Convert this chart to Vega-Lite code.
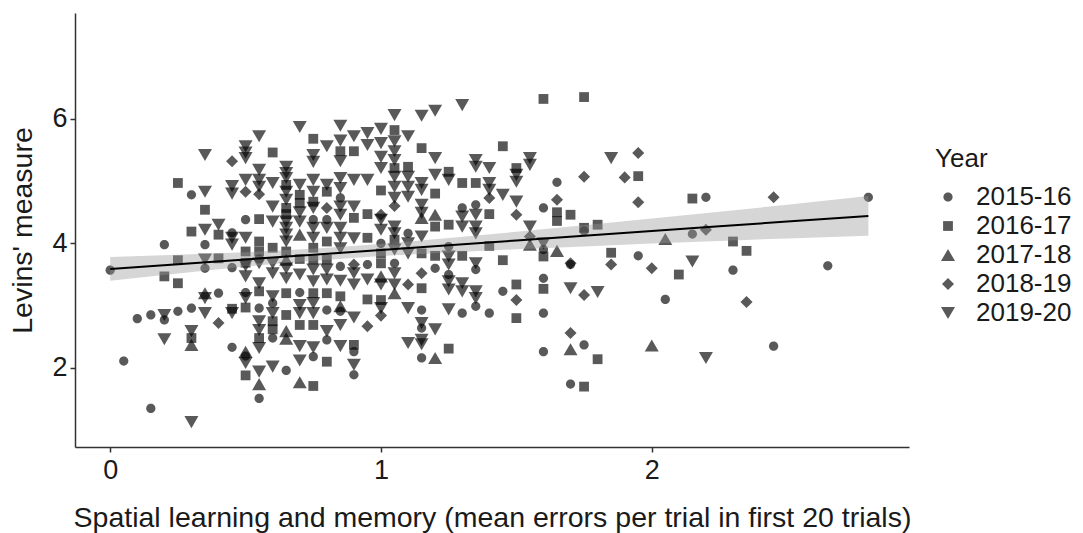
{
  "$schema": "https://vega.github.io/schema/vega-lite/v6.json",
  "width": 834,
  "height": 434,
  "autosize": {"type": "none"},
  "padding": {"left": 75, "top": 13, "right": 174, "bottom": 86},
  "background": "white",
  "config": {
    "view": {"stroke": null},
    "font": "Liberation Sans",
    "axis": {
      "grid": false,
      "domainColor": "#333333",
      "domainWidth": 1.5,
      "tickColor": "#333333",
      "tickWidth": 1.5,
      "tickSize": 5,
      "labelFont": "Liberation Sans",
      "labelFontSize": 27,
      "labelColor": "#1a1a1a",
      "labelFlush": false,
      "labelOverlap": false,
      "titleFont": "Liberation Sans",
      "titleFontSize": 28.5,
      "titleFontWeight": "normal",
      "titleColor": "#1a1a1a"
    },
    "axisX": {"labelPadding": 5, "titleX": 417, "titleY": 79, "titleBaseline": "alphabetic", "titleAlign": "center"},
    "axisY": {"labelPadding": 3, "titleX": -44, "titleY": 217, "titleBaseline": "alphabetic", "titleAlign": "center"}
  },
  "datasets": {
    "animals": [
      {"errors":0.0,"levins":3.57,"Year":"2015-16"},
      {"errors":0.05,"levins":2.11,"Year":"2015-16"},
      {"errors":0.1,"levins":2.79,"Year":"2015-16"},
      {"errors":0.15,"levins":2.85,"Year":"2015-16"},
      {"errors":0.15,"levins":1.35,"Year":"2015-16"},
      {"errors":0.2,"levins":3.98,"Year":"2015-16"},
      {"errors":0.2,"levins":3.47,"Year":"2016-17"},
      {"errors":0.2,"levins":2.85,"Year":"2019-20"},
      {"errors":0.2,"levins":2.77,"Year":"2015-16"},
      {"errors":0.2,"levins":2.46,"Year":"2019-20"},
      {"errors":0.25,"levins":4.97,"Year":"2016-17"},
      {"errors":0.25,"levins":3.73,"Year":"2016-17"},
      {"errors":0.25,"levins":3.36,"Year":"2016-17"},
      {"errors":0.25,"levins":2.91,"Year":"2015-16"},
      {"errors":0.3,"levins":4.78,"Year":"2015-16"},
      {"errors":0.3,"levins":4.19,"Year":"2016-17"},
      {"errors":0.3,"levins":2.96,"Year":"2015-16"},
      {"errors":0.3,"levins":2.59,"Year":"2019-20"},
      {"errors":0.3,"levins":2.48,"Year":"2016-17"},
      {"errors":0.3,"levins":2.37,"Year":"2017-18"},
      {"errors":0.3,"levins":1.13,"Year":"2019-20"},
      {"errors":0.35,"levins":5.42,"Year":"2019-20"},
      {"errors":0.35,"levins":4.83,"Year":"2019-20"},
      {"errors":0.35,"levins":4.54,"Year":"2016-17"},
      {"errors":0.35,"levins":4.22,"Year":"2019-20"},
      {"errors":0.35,"levins":3.98,"Year":"2015-16"},
      {"errors":0.35,"levins":3.74,"Year":"2019-20"},
      {"errors":0.35,"levins":3.6,"Year":"2015-16"},
      {"errors":0.35,"levins":3.2,"Year":"2017-18"},
      {"errors":0.35,"levins":3.12,"Year":"2019-20"},
      {"errors":0.35,"levins":2.88,"Year":"2019-20"},
      {"errors":0.4,"levins":4.3,"Year":"2019-20"},
      {"errors":0.4,"levins":4.14,"Year":"2016-17"},
      {"errors":0.4,"levins":3.76,"Year":"2016-17"},
      {"errors":0.4,"levins":3.2,"Year":"2015-16"},
      {"errors":0.4,"levins":2.72,"Year":"2018-19"},
      {"errors":0.45,"levins":5.32,"Year":"2018-19"},
      {"errors":0.45,"levins":4.92,"Year":"2019-20"},
      {"errors":0.45,"levins":4.8,"Year":"2019-20"},
      {"errors":0.45,"levins":4.17,"Year":"2015-16"},
      {"errors":0.45,"levins":4.09,"Year":"2019-20"},
      {"errors":0.45,"levins":3.98,"Year":"2019-20"},
      {"errors":0.45,"levins":3.61,"Year":"2015-16"},
      {"errors":0.45,"levins":2.95,"Year":"2016-17"},
      {"errors":0.45,"levins":2.88,"Year":"2019-20"},
      {"errors":0.45,"levins":2.33,"Year":"2015-16"},
      {"errors":0.5,"levins":5.56,"Year":"2019-20"},
      {"errors":0.5,"levins":5.46,"Year":"2019-20"},
      {"errors":0.5,"levins":5.37,"Year":"2019-20"},
      {"errors":0.5,"levins":5.02,"Year":"2019-20"},
      {"errors":0.5,"levins":4.83,"Year":"2018-19"},
      {"errors":0.5,"levins":4.38,"Year":"2015-16"},
      {"errors":0.5,"levins":4.09,"Year":"2019-20"},
      {"errors":0.5,"levins":3.87,"Year":"2016-17"},
      {"errors":0.5,"levins":3.69,"Year":"2016-17"},
      {"errors":0.5,"levins":3.64,"Year":"2019-20"},
      {"errors":0.5,"levins":3.47,"Year":"2019-20"},
      {"errors":0.5,"levins":3.21,"Year":"2015-16"},
      {"errors":0.5,"levins":3.12,"Year":"2019-20"},
      {"errors":0.5,"levins":2.97,"Year":"2016-17"},
      {"errors":0.5,"levins":2.26,"Year":"2017-18"},
      {"errors":0.5,"levins":2.19,"Year":"2015-16"},
      {"errors":0.5,"levins":2.08,"Year":"2019-20"},
      {"errors":0.5,"levins":1.88,"Year":"2016-17"},
      {"errors":0.55,"levins":5.72,"Year":"2019-20"},
      {"errors":0.55,"levins":5.18,"Year":"2019-20"},
      {"errors":0.55,"levins":5.02,"Year":"2019-20"},
      {"errors":0.55,"levins":4.91,"Year":"2019-20"},
      {"errors":0.55,"levins":4.79,"Year":"2018-19"},
      {"errors":0.55,"levins":4.39,"Year":"2016-17"},
      {"errors":0.55,"levins":4.03,"Year":"2016-17"},
      {"errors":0.55,"levins":3.87,"Year":"2016-17"},
      {"errors":0.55,"levins":3.75,"Year":"2015-16"},
      {"errors":0.55,"levins":3.68,"Year":"2019-20"},
      {"errors":0.55,"levins":3.36,"Year":"2019-20"},
      {"errors":0.55,"levins":3.23,"Year":"2016-17"},
      {"errors":0.55,"levins":2.96,"Year":"2015-16"},
      {"errors":0.55,"levins":2.75,"Year":"2019-20"},
      {"errors":0.55,"levins":2.61,"Year":"2019-20"},
      {"errors":0.55,"levins":2.48,"Year":"2016-17"},
      {"errors":0.55,"levins":2.32,"Year":"2019-20"},
      {"errors":0.55,"levins":1.94,"Year":"2019-20"},
      {"errors":0.55,"levins":1.74,"Year":"2017-18"},
      {"errors":0.55,"levins":1.51,"Year":"2015-16"},
      {"errors":0.6,"levins":5.46,"Year":"2016-17"},
      {"errors":0.6,"levins":4.97,"Year":"2019-20"},
      {"errors":0.6,"levins":4.59,"Year":"2019-20"},
      {"errors":0.6,"levins":4.35,"Year":"2019-20"},
      {"errors":0.6,"levins":3.93,"Year":"2016-17"},
      {"errors":0.6,"levins":3.68,"Year":"2019-20"},
      {"errors":0.6,"levins":3.52,"Year":"2019-20"},
      {"errors":0.6,"levins":3.15,"Year":"2019-20"},
      {"errors":0.6,"levins":3.04,"Year":"2015-16"},
      {"errors":0.6,"levins":2.88,"Year":"2019-20"},
      {"errors":0.6,"levins":2.75,"Year":"2016-17"},
      {"errors":0.6,"levins":2.62,"Year":"2016-17"},
      {"errors":0.6,"levins":2.48,"Year":"2015-16"},
      {"errors":0.6,"levins":2.02,"Year":"2019-20"},
      {"errors":0.65,"levins":5.23,"Year":"2019-20"},
      {"errors":0.65,"levins":5.13,"Year":"2019-20"},
      {"errors":0.65,"levins":5.05,"Year":"2019-20"},
      {"errors":0.65,"levins":4.94,"Year":"2016-17"},
      {"errors":0.65,"levins":4.83,"Year":"2019-20"},
      {"errors":0.65,"levins":4.7,"Year":"2019-20"},
      {"errors":0.65,"levins":4.57,"Year":"2016-17"},
      {"errors":0.65,"levins":4.47,"Year":"2016-17"},
      {"errors":0.65,"levins":4.35,"Year":"2019-20"},
      {"errors":0.65,"levins":4.25,"Year":"2019-20"},
      {"errors":0.65,"levins":4.14,"Year":"2019-20"},
      {"errors":0.65,"levins":4.03,"Year":"2019-20"},
      {"errors":0.65,"levins":3.87,"Year":"2016-17"},
      {"errors":0.65,"levins":3.74,"Year":"2017-18"},
      {"errors":0.65,"levins":3.6,"Year":"2019-20"},
      {"errors":0.65,"levins":3.44,"Year":"2019-20"},
      {"errors":0.65,"levins":3.2,"Year":"2016-17"},
      {"errors":0.65,"levins":2.85,"Year":"2016-17"},
      {"errors":0.65,"levins":2.59,"Year":"2017-18"},
      {"errors":0.65,"levins":2.47,"Year":"2017-18"},
      {"errors":0.65,"levins":1.96,"Year":"2015-16"},
      {"errors":0.7,"levins":5.87,"Year":"2019-20"},
      {"errors":0.7,"levins":4.94,"Year":"2019-20"},
      {"errors":0.7,"levins":4.78,"Year":"2016-17"},
      {"errors":0.7,"levins":4.65,"Year":"2016-17"},
      {"errors":0.7,"levins":4.5,"Year":"2019-20"},
      {"errors":0.7,"levins":4.35,"Year":"2019-20"},
      {"errors":0.7,"levins":4.14,"Year":"2017-18"},
      {"errors":0.7,"levins":3.75,"Year":"2016-17"},
      {"errors":0.7,"levins":3.5,"Year":"2019-20"},
      {"errors":0.7,"levins":3.21,"Year":"2015-16"},
      {"errors":0.7,"levins":3.01,"Year":"2019-20"},
      {"errors":0.7,"levins":2.88,"Year":"2019-20"},
      {"errors":0.7,"levins":2.69,"Year":"2016-17"},
      {"errors":0.7,"levins":2.35,"Year":"2019-20"},
      {"errors":0.7,"levins":2.12,"Year":"2019-20"},
      {"errors":0.7,"levins":1.77,"Year":"2017-18"},
      {"errors":0.75,"levins":5.68,"Year":"2016-17"},
      {"errors":0.75,"levins":5.42,"Year":"2019-20"},
      {"errors":0.75,"levins":5.31,"Year":"2019-20"},
      {"errors":0.75,"levins":5.02,"Year":"2019-20"},
      {"errors":0.75,"levins":4.83,"Year":"2019-20"},
      {"errors":0.75,"levins":4.67,"Year":"2016-17"},
      {"errors":0.75,"levins":4.57,"Year":"2019-20"},
      {"errors":0.75,"levins":4.38,"Year":"2015-16"},
      {"errors":0.75,"levins":4.25,"Year":"2019-20"},
      {"errors":0.75,"levins":4.09,"Year":"2019-20"},
      {"errors":0.75,"levins":3.93,"Year":"2016-17"},
      {"errors":0.75,"levins":3.74,"Year":"2016-17"},
      {"errors":0.75,"levins":3.58,"Year":"2019-20"},
      {"errors":0.75,"levins":3.39,"Year":"2019-20"},
      {"errors":0.75,"levins":3.2,"Year":"2016-17"},
      {"errors":0.75,"levins":3.04,"Year":"2019-20"},
      {"errors":0.75,"levins":2.88,"Year":"2019-20"},
      {"errors":0.75,"levins":2.69,"Year":"2016-17"},
      {"errors":0.75,"levins":2.33,"Year":"2019-20"},
      {"errors":0.75,"levins":2.18,"Year":"2015-16"},
      {"errors":0.75,"levins":1.71,"Year":"2016-17"},
      {"errors":0.8,"levins":5.56,"Year":"2019-20"},
      {"errors":0.8,"levins":4.94,"Year":"2019-20"},
      {"errors":0.8,"levins":4.83,"Year":"2016-17"},
      {"errors":0.8,"levins":4.57,"Year":"2018-19"},
      {"errors":0.8,"levins":4.38,"Year":"2015-16"},
      {"errors":0.8,"levins":4.25,"Year":"2019-20"},
      {"errors":0.8,"levins":4.03,"Year":"2016-17"},
      {"errors":0.8,"levins":3.74,"Year":"2016-17"},
      {"errors":0.8,"levins":3.58,"Year":"2019-20"},
      {"errors":0.8,"levins":3.42,"Year":"2019-20"},
      {"errors":0.8,"levins":3.2,"Year":"2016-17"},
      {"errors":0.8,"levins":2.93,"Year":"2015-16"},
      {"errors":0.8,"levins":2.59,"Year":"2019-20"},
      {"errors":0.8,"levins":2.45,"Year":"2015-16"},
      {"errors":0.8,"levins":2.1,"Year":"2016-17"},
      {"errors":0.85,"levins":5.89,"Year":"2019-20"},
      {"errors":0.85,"levins":5.65,"Year":"2019-20"},
      {"errors":0.85,"levins":5.48,"Year":"2016-17"},
      {"errors":0.85,"levins":5.32,"Year":"2019-20"},
      {"errors":0.85,"levins":5.05,"Year":"2019-20"},
      {"errors":0.85,"levins":4.89,"Year":"2019-20"},
      {"errors":0.85,"levins":4.73,"Year":"2015-16"},
      {"errors":0.85,"levins":4.59,"Year":"2019-20"},
      {"errors":0.85,"levins":4.46,"Year":"2019-20"},
      {"errors":0.85,"levins":4.25,"Year":"2019-20"},
      {"errors":0.85,"levins":4.09,"Year":"2019-20"},
      {"errors":0.85,"levins":3.92,"Year":"2019-20"},
      {"errors":0.85,"levins":3.63,"Year":"2015-16"},
      {"errors":0.85,"levins":3.4,"Year":"2019-20"},
      {"errors":0.85,"levins":3.15,"Year":"2016-17"},
      {"errors":0.85,"levins":2.99,"Year":"2017-18"},
      {"errors":0.85,"levins":2.91,"Year":"2015-16"},
      {"errors":0.85,"levins":2.69,"Year":"2019-20"},
      {"errors":0.85,"levins":2.35,"Year":"2019-20"},
      {"errors":0.9,"levins":5.72,"Year":"2019-20"},
      {"errors":0.9,"levins":5.48,"Year":"2016-17"},
      {"errors":0.9,"levins":5.02,"Year":"2019-20"},
      {"errors":0.9,"levins":4.59,"Year":"2019-20"},
      {"errors":0.9,"levins":4.41,"Year":"2016-17"},
      {"errors":0.9,"levins":4.08,"Year":"2019-20"},
      {"errors":0.9,"levins":3.66,"Year":"2018-19"},
      {"errors":0.9,"levins":3.52,"Year":"2019-20"},
      {"errors":0.9,"levins":3.34,"Year":"2019-20"},
      {"errors":0.9,"levins":2.81,"Year":"2019-20"},
      {"errors":0.9,"levins":2.37,"Year":"2016-17"},
      {"errors":0.9,"levins":2.26,"Year":"2015-16"},
      {"errors":0.9,"levins":2.05,"Year":"2019-20"},
      {"errors":0.9,"levins":1.89,"Year":"2015-16"},
      {"errors":0.95,"levins":5.77,"Year":"2019-20"},
      {"errors":0.95,"levins":5.58,"Year":"2019-20"},
      {"errors":0.95,"levins":5.02,"Year":"2019-20"},
      {"errors":0.95,"levins":4.47,"Year":"2016-17"},
      {"errors":0.95,"levins":4.09,"Year":"2016-17"},
      {"errors":0.95,"levins":3.66,"Year":"2015-16"},
      {"errors":0.95,"levins":3.42,"Year":"2019-20"},
      {"errors":0.95,"levins":3.1,"Year":"2016-17"},
      {"errors":0.95,"levins":2.67,"Year":"2018-19"},
      {"errors":1.0,"levins":5.84,"Year":"2019-20"},
      {"errors":1.0,"levins":5.61,"Year":"2019-20"},
      {"errors":1.0,"levins":5.39,"Year":"2019-20"},
      {"errors":1.0,"levins":5.21,"Year":"2019-20"},
      {"errors":1.0,"levins":4.85,"Year":"2016-17"},
      {"errors":1.0,"levins":4.46,"Year":"2018-19"},
      {"errors":1.0,"levins":4.38,"Year":"2019-20"},
      {"errors":1.0,"levins":4.22,"Year":"2019-20"},
      {"errors":1.0,"levins":4.0,"Year":"2015-16"},
      {"errors":1.0,"levins":3.84,"Year":"2016-17"},
      {"errors":1.0,"levins":3.68,"Year":"2016-17"},
      {"errors":1.0,"levins":3.47,"Year":"2017-18"},
      {"errors":1.0,"levins":3.34,"Year":"2019-20"},
      {"errors":1.0,"levins":3.09,"Year":"2016-17"},
      {"errors":1.0,"levins":2.96,"Year":"2019-20"},
      {"errors":1.0,"levins":2.84,"Year":"2018-19"},
      {"errors":1.05,"levins":6.06,"Year":"2019-20"},
      {"errors":1.05,"levins":5.82,"Year":"2016-17"},
      {"errors":1.05,"levins":5.64,"Year":"2019-20"},
      {"errors":1.05,"levins":5.48,"Year":"2019-20"},
      {"errors":1.05,"levins":5.34,"Year":"2019-20"},
      {"errors":1.05,"levins":5.21,"Year":"2016-17"},
      {"errors":1.05,"levins":5.07,"Year":"2019-20"},
      {"errors":1.05,"levins":4.91,"Year":"2019-20"},
      {"errors":1.05,"levins":4.73,"Year":"2019-20"},
      {"errors":1.05,"levins":4.6,"Year":"2018-19"},
      {"errors":1.05,"levins":4.27,"Year":"2019-20"},
      {"errors":1.05,"levins":4.16,"Year":"2019-20"},
      {"errors":1.05,"levins":4.06,"Year":"2016-17"},
      {"errors":1.05,"levins":3.9,"Year":"2019-20"},
      {"errors":1.05,"levins":3.68,"Year":"2015-16"},
      {"errors":1.05,"levins":3.52,"Year":"2019-20"},
      {"errors":1.05,"levins":3.34,"Year":"2019-20"},
      {"errors":1.05,"levins":3.2,"Year":"2017-18"},
      {"errors":1.1,"levins":5.72,"Year":"2019-20"},
      {"errors":1.1,"levins":5.23,"Year":"2016-17"},
      {"errors":1.1,"levins":5.07,"Year":"2019-20"},
      {"errors":1.1,"levins":4.91,"Year":"2019-20"},
      {"errors":1.1,"levins":4.75,"Year":"2019-20"},
      {"errors":1.1,"levins":4.16,"Year":"2015-16"},
      {"errors":1.1,"levins":4.0,"Year":"2019-20"},
      {"errors":1.1,"levins":3.84,"Year":"2019-20"},
      {"errors":1.1,"levins":3.34,"Year":"2018-19"},
      {"errors":1.1,"levins":2.96,"Year":"2019-20"},
      {"errors":1.1,"levins":2.4,"Year":"2019-20"},
      {"errors":1.15,"levins":6.05,"Year":"2019-20"},
      {"errors":1.15,"levins":5.53,"Year":"2016-17"},
      {"errors":1.15,"levins":4.97,"Year":"2019-20"},
      {"errors":1.15,"levins":4.86,"Year":"2019-20"},
      {"errors":1.15,"levins":4.62,"Year":"2019-20"},
      {"errors":1.15,"levins":4.49,"Year":"2019-20"},
      {"errors":1.15,"levins":4.41,"Year":"2017-18"},
      {"errors":1.15,"levins":4.11,"Year":"2019-20"},
      {"errors":1.15,"levins":3.84,"Year":"2016-17"},
      {"errors":1.15,"levins":3.52,"Year":"2018-19"},
      {"errors":1.15,"levins":3.28,"Year":"2016-17"},
      {"errors":1.15,"levins":2.93,"Year":"2015-16"},
      {"errors":1.15,"levins":2.72,"Year":"2019-20"},
      {"errors":1.15,"levins":2.64,"Year":"2015-16"},
      {"errors":1.15,"levins":2.45,"Year":"2019-20"},
      {"errors":1.15,"levins":2.38,"Year":"2019-20"},
      {"errors":1.15,"levins":2.16,"Year":"2015-16"},
      {"errors":1.2,"levins":6.13,"Year":"2019-20"},
      {"errors":1.2,"levins":5.37,"Year":"2019-20"},
      {"errors":1.2,"levins":5.1,"Year":"2019-20"},
      {"errors":1.2,"levins":4.8,"Year":"2016-17"},
      {"errors":1.2,"levins":4.46,"Year":"2017-18"},
      {"errors":1.2,"levins":4.27,"Year":"2016-17"},
      {"errors":1.2,"levins":3.8,"Year":"2016-17"},
      {"errors":1.2,"levins":3.6,"Year":"2015-16"},
      {"errors":1.2,"levins":2.62,"Year":"2019-20"},
      {"errors":1.2,"levins":2.16,"Year":"2017-18"},
      {"errors":1.25,"levins":5.15,"Year":"2016-17"},
      {"errors":1.25,"levins":5.02,"Year":"2019-20"},
      {"errors":1.25,"levins":4.3,"Year":"2016-17"},
      {"errors":1.25,"levins":3.95,"Year":"2015-16"},
      {"errors":1.25,"levins":3.79,"Year":"2019-20"},
      {"errors":1.25,"levins":3.66,"Year":"2019-20"},
      {"errors":1.25,"levins":3.5,"Year":"2015-16"},
      {"errors":1.25,"levins":3.39,"Year":"2019-20"},
      {"errors":1.25,"levins":3.26,"Year":"2019-20"},
      {"errors":1.25,"levins":2.94,"Year":"2019-20"},
      {"errors":1.25,"levins":2.31,"Year":"2016-17"},
      {"errors":1.3,"levins":6.22,"Year":"2019-20"},
      {"errors":1.3,"levins":4.97,"Year":"2016-17"},
      {"errors":1.3,"levins":4.57,"Year":"2015-16"},
      {"errors":1.3,"levins":4.43,"Year":"2019-20"},
      {"errors":1.3,"levins":4.27,"Year":"2019-20"},
      {"errors":1.3,"levins":3.8,"Year":"2016-17"},
      {"errors":1.3,"levins":3.36,"Year":"2019-20"},
      {"errors":1.3,"levins":3.23,"Year":"2019-20"},
      {"errors":1.3,"levins":2.88,"Year":"2015-16"},
      {"errors":1.35,"levins":5.34,"Year":"2019-20"},
      {"errors":1.35,"levins":5.23,"Year":"2019-20"},
      {"errors":1.35,"levins":4.97,"Year":"2016-17"},
      {"errors":1.35,"levins":4.62,"Year":"2015-16"},
      {"errors":1.35,"levins":4.46,"Year":"2019-20"},
      {"errors":1.35,"levins":4.27,"Year":"2019-20"},
      {"errors":1.35,"levins":4.16,"Year":"2019-20"},
      {"errors":1.35,"levins":3.68,"Year":"2019-20"},
      {"errors":1.35,"levins":3.58,"Year":"2015-16"},
      {"errors":1.35,"levins":3.23,"Year":"2019-20"},
      {"errors":1.35,"levins":3.12,"Year":"2019-20"},
      {"errors":1.35,"levins":2.99,"Year":"2015-16"},
      {"errors":1.4,"levins":5.21,"Year":"2019-20"},
      {"errors":1.4,"levins":4.97,"Year":"2019-20"},
      {"errors":1.4,"levins":4.86,"Year":"2019-20"},
      {"errors":1.4,"levins":4.73,"Year":"2018-19"},
      {"errors":1.4,"levins":4.47,"Year":"2016-17"},
      {"errors":1.4,"levins":3.96,"Year":"2016-17"},
      {"errors":1.4,"levins":2.88,"Year":"2015-16"},
      {"errors":1.45,"levins":5.56,"Year":"2016-17"},
      {"errors":1.45,"levins":4.78,"Year":"2019-20"},
      {"errors":1.45,"levins":3.73,"Year":"2016-17"},
      {"errors":1.45,"levins":3.23,"Year":"2015-16"},
      {"errors":1.5,"levins":5.21,"Year":"2016-17"},
      {"errors":1.5,"levins":5.1,"Year":"2019-20"},
      {"errors":1.5,"levins":4.99,"Year":"2019-20"},
      {"errors":1.5,"levins":4.67,"Year":"2019-20"},
      {"errors":1.5,"levins":4.46,"Year":"2018-19"},
      {"errors":1.5,"levins":3.34,"Year":"2016-17"},
      {"errors":1.5,"levins":3.09,"Year":"2018-19"},
      {"errors":1.5,"levins":2.8,"Year":"2016-17"},
      {"errors":1.55,"levins":5.37,"Year":"2019-20"},
      {"errors":1.55,"levins":5.26,"Year":"2019-20"},
      {"errors":1.55,"levins":4.27,"Year":"2019-20"},
      {"errors":1.55,"levins":4.11,"Year":"2018-19"},
      {"errors":1.55,"levins":3.98,"Year":"2017-18"},
      {"errors":1.6,"levins":6.32,"Year":"2016-17"},
      {"errors":1.6,"levins":4.57,"Year":"2015-16"},
      {"errors":1.6,"levins":4.0,"Year":"2019-20"},
      {"errors":1.6,"levins":3.9,"Year":"2015-16"},
      {"errors":1.6,"levins":3.79,"Year":"2016-17"},
      {"errors":1.6,"levins":3.44,"Year":"2015-16"},
      {"errors":1.6,"levins":3.27,"Year":"2016-17"},
      {"errors":1.6,"levins":2.88,"Year":"2015-16"},
      {"errors":1.6,"levins":2.26,"Year":"2015-16"},
      {"errors":1.65,"levins":4.98,"Year":"2015-16"},
      {"errors":1.65,"levins":4.7,"Year":"2018-19"},
      {"errors":1.65,"levins":4.5,"Year":"2016-17"},
      {"errors":1.65,"levins":4.36,"Year":"2016-17"},
      {"errors":1.65,"levins":3.88,"Year":"2017-18"},
      {"errors":1.7,"levins":4.46,"Year":"2016-17"},
      {"errors":1.7,"levins":3.68,"Year":"2018-19"},
      {"errors":1.7,"levins":3.66,"Year":"2015-16"},
      {"errors":1.7,"levins":3.28,"Year":"2019-20"},
      {"errors":1.7,"levins":2.56,"Year":"2018-19"},
      {"errors":1.7,"levins":2.3,"Year":"2017-18"},
      {"errors":1.7,"levins":1.74,"Year":"2015-16"},
      {"errors":1.75,"levins":6.35,"Year":"2016-17"},
      {"errors":1.75,"levins":5.07,"Year":"2018-19"},
      {"errors":1.75,"levins":4.25,"Year":"2016-17"},
      {"errors":1.75,"levins":4.2,"Year":"2015-16"},
      {"errors":1.75,"levins":3.17,"Year":"2018-19"},
      {"errors":1.75,"levins":2.37,"Year":"2015-16"},
      {"errors":1.75,"levins":1.7,"Year":"2016-17"},
      {"errors":1.8,"levins":4.3,"Year":"2016-17"},
      {"errors":1.8,"levins":3.22,"Year":"2019-20"},
      {"errors":1.8,"levins":2.14,"Year":"2016-17"},
      {"errors":1.85,"levins":5.37,"Year":"2019-20"},
      {"errors":1.85,"levins":3.85,"Year":"2016-17"},
      {"errors":1.85,"levins":3.66,"Year":"2018-19"},
      {"errors":1.9,"levins":5.06,"Year":"2018-19"},
      {"errors":1.95,"levins":5.45,"Year":"2018-19"},
      {"errors":1.95,"levins":5.08,"Year":"2016-17"},
      {"errors":1.95,"levins":4.66,"Year":"2018-19"},
      {"errors":1.95,"levins":3.8,"Year":"2015-16"},
      {"errors":2.0,"levins":3.6,"Year":"2018-19"},
      {"errors":2.0,"levins":2.36,"Year":"2017-18"},
      {"errors":2.05,"levins":4.07,"Year":"2017-18"},
      {"errors":2.05,"levins":3.1,"Year":"2015-16"},
      {"errors":2.1,"levins":3.5,"Year":"2016-17"},
      {"errors":2.15,"levins":4.72,"Year":"2016-17"},
      {"errors":2.15,"levins":4.15,"Year":"2015-16"},
      {"errors":2.15,"levins":3.71,"Year":"2019-20"},
      {"errors":2.2,"levins":4.74,"Year":"2015-16"},
      {"errors":2.2,"levins":4.22,"Year":"2018-19"},
      {"errors":2.2,"levins":2.16,"Year":"2019-20"},
      {"errors":2.3,"levins":4.03,"Year":"2016-17"},
      {"errors":2.3,"levins":3.57,"Year":"2015-16"},
      {"errors":2.35,"levins":3.88,"Year":"2016-17"},
      {"errors":2.35,"levins":3.06,"Year":"2018-19"},
      {"errors":2.45,"levins":4.74,"Year":"2018-19"},
      {"errors":2.45,"levins":2.35,"Year":"2015-16"},
      {"errors":2.65,"levins":3.64,"Year":"2015-16"},
      {"errors":2.8,"levins":4.74,"Year":"2015-16"}
    ],
    "fit": [
      {"errors":0.0,"fit":3.59,"lower":3.4,"upper":3.78},
      {"errors":0.25,"fit":3.666,"lower":3.516,"upper":3.816},
      {"errors":0.5,"fit":3.742,"lower":3.627,"upper":3.857},
      {"errors":0.75,"fit":3.818,"lower":3.723,"upper":3.913},
      {"errors":1.0,"fit":3.894,"lower":3.799,"upper":3.989},
      {"errors":1.25,"fit":3.97,"lower":3.855,"upper":4.085},
      {"errors":1.5,"fit":4.046,"lower":3.906,"upper":4.186},
      {"errors":1.75,"fit":4.122,"lower":3.952,"upper":4.292},
      {"errors":2.0,"fit":4.198,"lower":3.998,"upper":4.398},
      {"errors":2.25,"fit":4.274,"lower":4.039,"upper":4.509},
      {"errors":2.5,"fit":4.35,"lower":4.08,"upper":4.62},
      {"errors":2.8,"fit":4.441,"lower":4.121,"upper":4.761}
    ]
  },
  "layer": [
    {
      "data": {"name": "animals"},
      "mark": {"type": "point", "filled": true, "color": "#000000", "opacity": 0.65, "size": 196, "strokeWidth": 0},
      "encoding": {
        "x": {
          "field": "errors", "type": "quantitative",
          "title": "Spatial learning and memory (mean errors per trial in first 20 trials)",
          "scale": {"domain": [-0.13, 2.95], "nice": false, "zero": false},
          "axis": {"values": [0, 1, 2], "format": "d"}
        },
        "y": {
          "field": "levins", "type": "quantitative",
          "title": "Levins' measure",
          "scale": {"domain": [0.73, 7.7], "nice": false, "zero": false},
          "axis": {"values": [2, 4, 6], "format": "d"}
        },
        "shape": {
          "field": "Year", "type": "nominal",
          "scale": {
            "domain": ["2015-16", "2016-17", "2017-18", "2018-19", "2019-20"],
            "range": [
              "M0.66,0A0.66,0.66,0,1,1,-0.66,0A0.66,0.66,0,1,1,0.66,0Z",
              "M-0.7,-0.7L0.7,-0.7L0.7,0.7L-0.7,0.7Z",
              "M0,-0.866L1,0.866L-1,0.866Z",
              "M0,-0.86L0.86,0L0,0.86L-0.86,0Z",
              "M0,0.866L1,-0.866L-1,-0.866Z"
            ]
          },
          "legend": {
            "orient": "none",
            "legendX": 860,
            "legendY": 133,
            "title": "Year",
            "titleFont": "Liberation Sans",
            "titleFontSize": 26,
            "titleFontWeight": "normal",
            "titleColor": "#1a1a1a",
            "titlePadding": 12,
            "labelFont": "Liberation Sans",
            "labelFontSize": 26,
            "labelColor": "#1a1a1a",
            "labelOffset": 15,
            "symbolOffset": 0,
            "symbolSize": 196,
            "symbolFillColor": "#000000",
            "symbolOpacity": 0.65,
            "symbolStrokeWidth": 0,
            "rowPadding": 3
          }
        }
      }
    },
    {
      "data": {"name": "fit"},
      "mark": {"type": "area", "color": "#999999", "opacity": 0.4},
      "encoding": {
        "x": {"field": "errors", "type": "quantitative", "title": "Spatial learning and memory (mean errors per trial in first 20 trials)"},
        "y": {"field": "lower", "type": "quantitative", "title": "Levins' measure"},
        "y2": {"field": "upper"}
      }
    },
    {
      "data": {"name": "fit"},
      "mark": {"type": "line", "color": "#000000", "strokeWidth": 2},
      "encoding": {
        "x": {"field": "errors", "type": "quantitative", "title": "Spatial learning and memory (mean errors per trial in first 20 trials)"},
        "y": {"field": "fit", "type": "quantitative", "title": "Levins' measure"}
      }
    }
  ]
}
